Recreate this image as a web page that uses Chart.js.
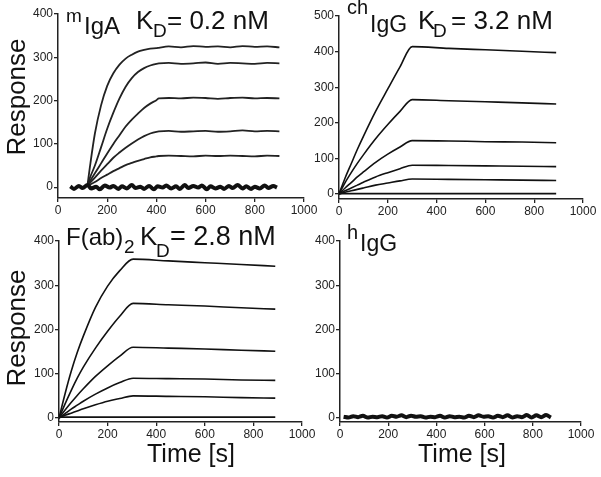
<!DOCTYPE html>
<html>
<head>
<meta charset="utf-8">
<script src="https://cdn.jsdelivr.net/npm/chart.js@4.4.0/dist/chart.umd.min.js"></script>
<style>
html,body{margin:0;padding:0;background:#ffffff;}
#wrap{position:relative;width:601px;height:477px;overflow:hidden;background:#fff;}
#wrap canvas{position:absolute;left:0;top:0;width:601px;height:477px;}
</style>
</head>
<body>
<div id="wrap">
<canvas id="pA" width="601" height="477"></canvas>
<canvas id="pB" width="601" height="477"></canvas>
<canvas id="pC" width="601" height="477"></canvas>
<canvas id="pD" width="601" height="477"></canvas>
</div>
<script>
// ---------- tick labels ----------
const timeTicks = [0, 200, 400, 600, 800, 1000];
const respTicks400 = [0, 100, 200, 300, 400];
const respTicks500 = [0, 100, 200, 300, 400, 500];

// ---------- panel A : mIgA ----------
const igaBaseTime = [50,65,85,100,120,135,155,170,190,210,225,245,260,280,300,315,335,350,370,390,405,425,440,460,480,495,515,530,550,570,585,605,620,640,660,675,695,710,730,750,765,785,800,820,840,855,875,890];
const igaBaseVals = [2,-4,3,-2,5,-3,1,-5,4,-1,3,-4,2,-3,5,-2,1,-4,3,-5,2,-1,4,-3,2,-4,5,-2,3,-1,4,-5,2,-3,1,-4,3,-2,5,-3,2,-4,1,-3,4,-2,3,-1];
const igaTime = [120,130,150,175,200,225,250,275,300,325,350,375,400,410,450,500,550,600,650,700,750,800,850,900];
const igaC1 = [5,48,124,189,234,263,283,297,306,313,317,320,321,322,325,323,326,324,325,323,326,324,325,323];
const igaC2 = [5,22,50,92,135,172,205,232,252,266,275,281,285,286,287,285,286,288,285,287,286,285,287,286];
const igaC3 = [5,14,32,55,78,100,120,140,156,170,183,193,201,205,206,205,207,206,204,206,207,205,206,205];
const igaC4 = [4,10,22,38,53,68,80,91,101,110,118,124,128,129,130,128,129,130,128,129,131,129,130,129];
const igaC5 = [3,6,12,21,29,37,44,51,56,61,65,69,71,72,73,72,71,73,72,73,72,71,73,72];

// ---------- panel B : chIgG ----------
const chTime = [0,25,50,75,100,150,200,250,300,450,600,750,890];
const chC0 = [1,1,1,1,1,1,1,1,1,1,1,1,1];
const chC1 = [0,45,85,125,162,232,295,357,414,409,405,401,397];
const chC2 = [0,32,60,86,110,155,195,232,265,262,259,256,253];
const chC3 = [0,17,32,48,62,89,112,132,150,149,147,146,144];
const chC4 = [0,9,17,25,33,48,60,71,81,80,79,78,77];
const chC5 = [0,5,9,13,17,25,31,37,42,41,40,39,38];

// ---------- panel C : F(ab)2 ----------
const fabTime = [0,25,50,75,100,150,200,250,305,450,600,750,890];
const fabC0 = [2,2,2,2,2,2,2,2,2,2,2,2,2];
const fabC1 = [0,55,105,148,185,250,298,333,359,355,351,347,343];
const fabC2 = [0,32,62,90,115,158,196,230,259,256,253,249,246];
const fabC3 = [0,18,35,51,66,94,118,140,160,158,156,153,151];
const fabC4 = [0,10,20,29,38,54,68,80,90,89,88,86,85];
const fabC5 = [0,6,11,16,21,30,38,44,50,49,48,46,45];

// ---------- panel D : hIgG ----------
const higTime = [15,35,55,75,95,115,135,155,175,195,215,235,255,275,295,315,335,355,375,395,415,435,455,475,495,515,535,555,575,595,615,635,655,675,695,715,735,755,775,795,815,835,855,875];
const higVals = [3,1,4,2,5,1,3,2,4,1,5,3,6,2,5,3,4,1,3,2,5,1,4,2,3,1,5,2,6,3,4,1,5,2,6,1,4,2,7,1,6,2,7,1];

// ---------- helpers ----------
function pts(xs, ys){ return xs.map((x,i)=>({x:x, y:ys[i]})); }
function line(xs, ys, w, c){
  return {data: pts(xs, ys), borderColor:c || '#111', borderWidth:w, pointRadius:0,
          fill:false, cubicInterpolationMode:'monotone'};
}

const textPlugin = {
  id:'panelText',
  afterDraw(chart, args, o){
    const ctx = chart.ctx;
    ctx.save();
    ctx.fillStyle = '#111';
    ctx.textBaseline = 'alphabetic';
    (o.parts||[]).forEach(p=>{
      ctx.font = p.size + 'px "Liberation Sans", Arial, sans-serif';
      ctx.textAlign = 'left';
      ctx.fillText(p.text, p.x, p.y);
    });
    if (o.yTitle){
      ctx.save();
      ctx.font = '26px "Liberation Sans", Arial, sans-serif';
      ctx.translate(o.yTitle.x, o.yTitle.y);
      ctx.rotate(-Math.PI/2);
      ctx.textAlign = 'center';
      ctx.fillText(o.yTitle.text, 0, 0);
      ctx.restore();
    }
    if (o.xTitle){
      ctx.font = '25px "Liberation Sans", Arial, sans-serif';
      ctx.textAlign = 'center';
      ctx.fillText(o.xTitle.text, o.xTitle.x, o.xTitle.y);
    }
    ctx.restore();
  }
};

const WY = 45, HX = 30, PW = 601, PH = 477;
const tickFont = {family:'"Liberation Sans", Arial, sans-serif', size:12};

function makePanel(id, box, yMin, yMax, yTicks, datasets, text){
  return new Chart(document.getElementById(id), {
    type:'line',
    data:{datasets:datasets},
    plugins:[textPlugin],
    options:{
      responsive:false, animation:false, events:[],
      layout:{padding:{left:box.l - WY, top:box.t, right:PW - box.r, bottom:PH - box.b - HX}},
      plugins:{legend:{display:false}, tooltip:{enabled:false}, title:{display:false}, panelText:text},
      scales:{
        x:{type:'linear', min:0, max:1000,
           afterBuildTicks:s=>{ s.ticks = timeTicks.map(v=>({value:v})); },
           afterFit:s=>{ s.height = HX; },
           ticks:{font:tickFont, color:'#222', padding:1, maxRotation:0, autoSkip:false,
                  callback:v=>String(v)},
           grid:{drawOnChartArea:false, drawTicks:true, tickLength:4, color:'#222', lineWidth:1.3},
           border:{display:true, color:'#222', width:1.5}},
        y:{type:'linear', min:yMin, max:yMax,
           afterBuildTicks:s=>{ s.ticks = yTicks.map(v=>({value:v})); },
           afterFit:s=>{ s.width = WY; },
           ticks:{font:tickFont, color:'#222', padding:1, autoSkip:false,
                  callback:v=>String(v)},
           grid:{drawOnChartArea:false, drawTicks:true, tickLength:4, color:'#222', lineWidth:1.3},
           border:{display:true, color:'#222', width:1.5}}
      }
    }
  });
}

makePanel('pA', {l:58, t:14, r:304, b:198}, -25, 400, respTicks400, [
  line(igaBaseTime, igaBaseVals, 4),
  line(igaTime, igaC1, 1.8, '#222'), line(igaTime, igaC2, 1.8, '#222'), line(igaTime, igaC3, 1.8, '#222'),
  line(igaTime, igaC4, 1.8, '#222'), line(igaTime, igaC5, 1.8, '#222')
], {
  parts:[{text:'m', x:66, y:22, size:19}, {text:'IgA', x:84, y:33.5, size:24},
         {text:'K', x:136, y:29, size:26}, {text:'D', x:153, y:37, size:19},
         {text:'= 0.2 nM', x:167, y:29, size:26}],
  yTitle:{text:'Response', x:25, y:97}
});

makePanel('pB', {l:339, t:16, r:583, b:199}, -14, 500, respTicks500, [
  line(chTime, chC0, 1.6),
  line(chTime, chC1, 1.6), line(chTime, chC2, 1.6), line(chTime, chC3, 1.6),
  line(chTime, chC4, 1.6), line(chTime, chC5, 1.6)
], {
  parts:[{text:'ch', x:347, y:14, size:20}, {text:'IgG', x:370, y:31.5, size:23},
         {text:'K', x:418, y:29, size:26}, {text:'D', x:433, y:37, size:19},
         {text:'= 3.2 nM', x:451, y:29, size:26}]
});

makePanel('pC', {l:59, t:241, r:302, b:422}, -9, 400, respTicks400, [
  line(fabTime, fabC0, 1.6),
  line(fabTime, fabC1, 1.6), line(fabTime, fabC2, 1.6), line(fabTime, fabC3, 1.6),
  line(fabTime, fabC4, 1.6), line(fabTime, fabC5, 1.6)
], {
  parts:[{text:'F(ab)', x:66, y:245, size:24}, {text:'2', x:124, y:253, size:19},
         {text:'K', x:140, y:245, size:26}, {text:'D', x:156, y:257, size:19},
         {text:'= 2.8 nM', x:170, y:245, size:27}],
  yTitle:{text:'Response', x:25, y:328},
  xTitle:{text:'Time [s]', x:191, y:462}
});

makePanel('pD', {l:340, t:241, r:581, b:422}, -9, 400, respTicks400, [
  line(higTime, higVals, 4)
], {
  parts:[{text:'h', x:347, y:239, size:20}, {text:'IgG', x:360, y:251, size:23}],
  xTitle:{text:'Time [s]', x:462, y:462}
});
</script>
</body>
</html>
